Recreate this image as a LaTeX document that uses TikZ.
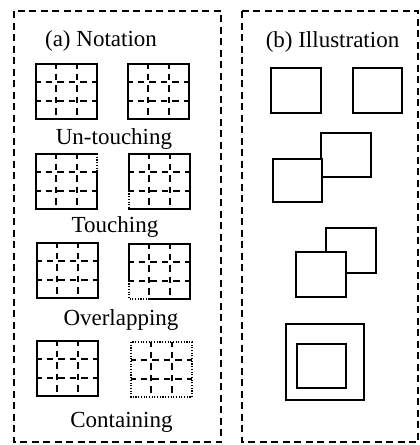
\documentclass[tikz,border=0pt]{standalone}
\usepackage{fontspec}
\setmainfont{Liberation Serif}
\tikzset{
  panel/.style={line width=1.5pt, dash pattern=on 7pt off 4.5pt},
  outl/.style={line width=2.3pt, line cap=rect, line join=miter},
  innerdash/.style={line width=1.9pt, dash pattern=on 6.5pt off 5pt, dash phase=2pt},
  dots/.style={line width=1.4pt, dash pattern=on 1.1pt off 1.6pt},
  sq/.style={draw, line width=2pt, fill=white},
  lbl/.style={anchor=base, inner sep=0pt, font=\fontsize{23}{27}\selectfont},
  pics/gridin/.style={code={
    \draw[innerdash] (20.3,0) -- (20.3,55) (40.7,0) -- (40.7,55)
                     (0,18.3) -- (61,18.3) (0,36.7) -- (61,36.7);
  }},
  pics/fullbox/.style={code={
    \pic {gridin};
    \draw[outl] (0,0) rectangle (61,55);
  }},
  pics/touchA/.style={code={
    \pic {gridin};
    \draw[outl] (61,18.3) -- (61,55) -- (0,55) -- (0,0) -- (61,0);
    \draw[dots] (61,0) -- (61,18.3);
  }},
  pics/touchB/.style={code={
    \pic {gridin};
    \draw[outl] (0,36.7) -- (0,0) -- (61,0) -- (61,55) -- (0,55);
    \draw[dots] (0,36.7) -- (0,55);
  }},
  pics/overB/.style={code={
    \pic {gridin};
    \draw[outl] (0,36.7) -- (0,0) -- (61,0) -- (61,55) -- (20.3,55);
    \draw[dots] (0,36.7) -- (0,55) -- (20.3,55);
  }},
  pics/contB/.style={code={
    \pic {gridin};
    \draw[dots] (0,0) rectangle (61,55);
  }},
}
\begin{document}
\begin{tikzpicture}[x=1pt,y=-1pt]
\useasboundingbox (0,0) rectangle (420,445);
% panels
\draw[panel] (14,11) rectangle (221,442);
\draw[panel] (242,11) rectangle (418,442);
% left panel
\node[lbl] (nota) at (101,46) {(a) Notation};
\pic at (36,64) {fullbox};
\pic at (128,64) {fullbox};
\node[lbl] (unt) at (114,144) {Un-touching};
\pic at (36,154) {touchA};
\pic at (129,154) {touchB};
\node[lbl] (tou) at (115,232) {Touching};
\pic at (37,243) {fullbox};
\pic at (129,244) {overB};
\node[lbl] (ovl) at (121,325) {Overlapping};
\pic at (37,341) {fullbox};
\pic at (131,342) {contB};
\node[lbl] (con) at (121.5,427) {Containing};
% right panel
\node[lbl] (ill) at (332.5,47) {(b) Illustration};
\draw[sq] (271,68) rectangle (321,113);
\draw[sq] (353,68) rectangle (402,113);
\draw[sq] (321,133) rectangle (371,177);
\draw[sq] (273,159) rectangle (322,202);
\draw[sq] (326,228) rectangle (376,273);
\draw[sq] (296,252) rectangle (346,297);
\draw[sq] (286,324) rectangle (364,400);
\draw[sq] (297,344) rectangle (346,388);
\end{tikzpicture}
\end{document}
